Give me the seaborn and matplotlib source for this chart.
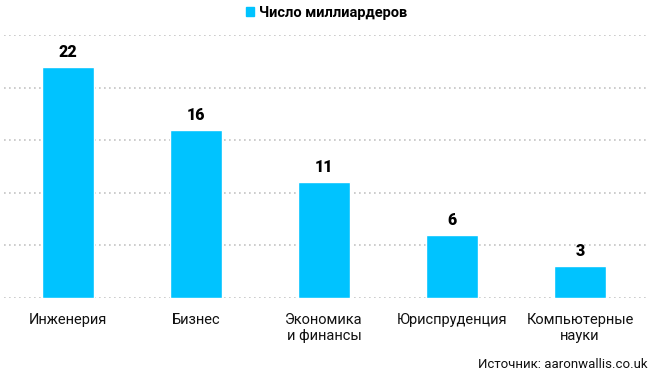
import matplotlib
matplotlib.use("Agg")
import matplotlib.pyplot as plt
import seaborn as sns
import pandas as pd
from matplotlib.patches import Patch

# data
categories = ["Инженерия", "Бизнес", "Экономика\nи финансы", "Юриспруденция", "Компьютерные\nнауки"]
values = [22, 16, 11, 6, 3]
series_name = "Число миллиардеров"
source = "Источник: aaronwallis.co.uk"

BAR_COLOR = "#00C3FF"

sns.set_theme(style="white")
plt.rcParams["font.family"] = ["Roboto", "DejaVu Sans"]

df = pd.DataFrame({"cat": categories, "val": values})

fig = plt.figure(figsize=(6.53, 3.76), dpi=100)
ax = fig.add_axes([4 / 653, 78 / 376, 644 / 653, 263 / 376])

sns.barplot(data=df, x="cat", y="val", color=BAR_COLOR, width=0.41,
            saturation=1, ax=ax, zorder=3)

ax.set_xlim(-0.5, 4.5 + 4 / 128)
ax.set_ylim(0, 25)
ax.set_yticks([0, 5, 10, 15, 20, 25])
ax.yaxis.grid(True, color="#c4c4c4", linestyle=(0, (1, 2)), linewidth=1.2, zorder=0)
ax.tick_params(axis="y", left=False, labelleft=False)
ax.tick_params(axis="x", bottom=False, labelsize=10.5, colors="#111111", pad=5)
for s in ax.spines.values():
    s.set_visible(False)
ax.set_xlabel("")
ax.set_ylabel("")

for i, v in enumerate(values):
    ax.annotate(str(v), (i, v), xytext=(0, 5), textcoords="offset points",
                ha="center", va="bottom", fontsize=11.5, fontweight="black", color="black")

fig.legend(handles=[Patch(color=BAR_COLOR)], labels=[series_name],
           loc="center", bbox_to_anchor=(0.5, 1 - 13 / 376), frameon=False,
           prop={"weight": "bold", "size": 10.5}, handlelength=0.55, handleheight=0.55,
           handletextpad=0.3, labelcolor="black")

fig.text(648 / 653, 1 - 365 / 376, source, ha="right", va="center",
         fontsize=9.5, color="#111111")

fig.savefig("out.png", dpi=100)
